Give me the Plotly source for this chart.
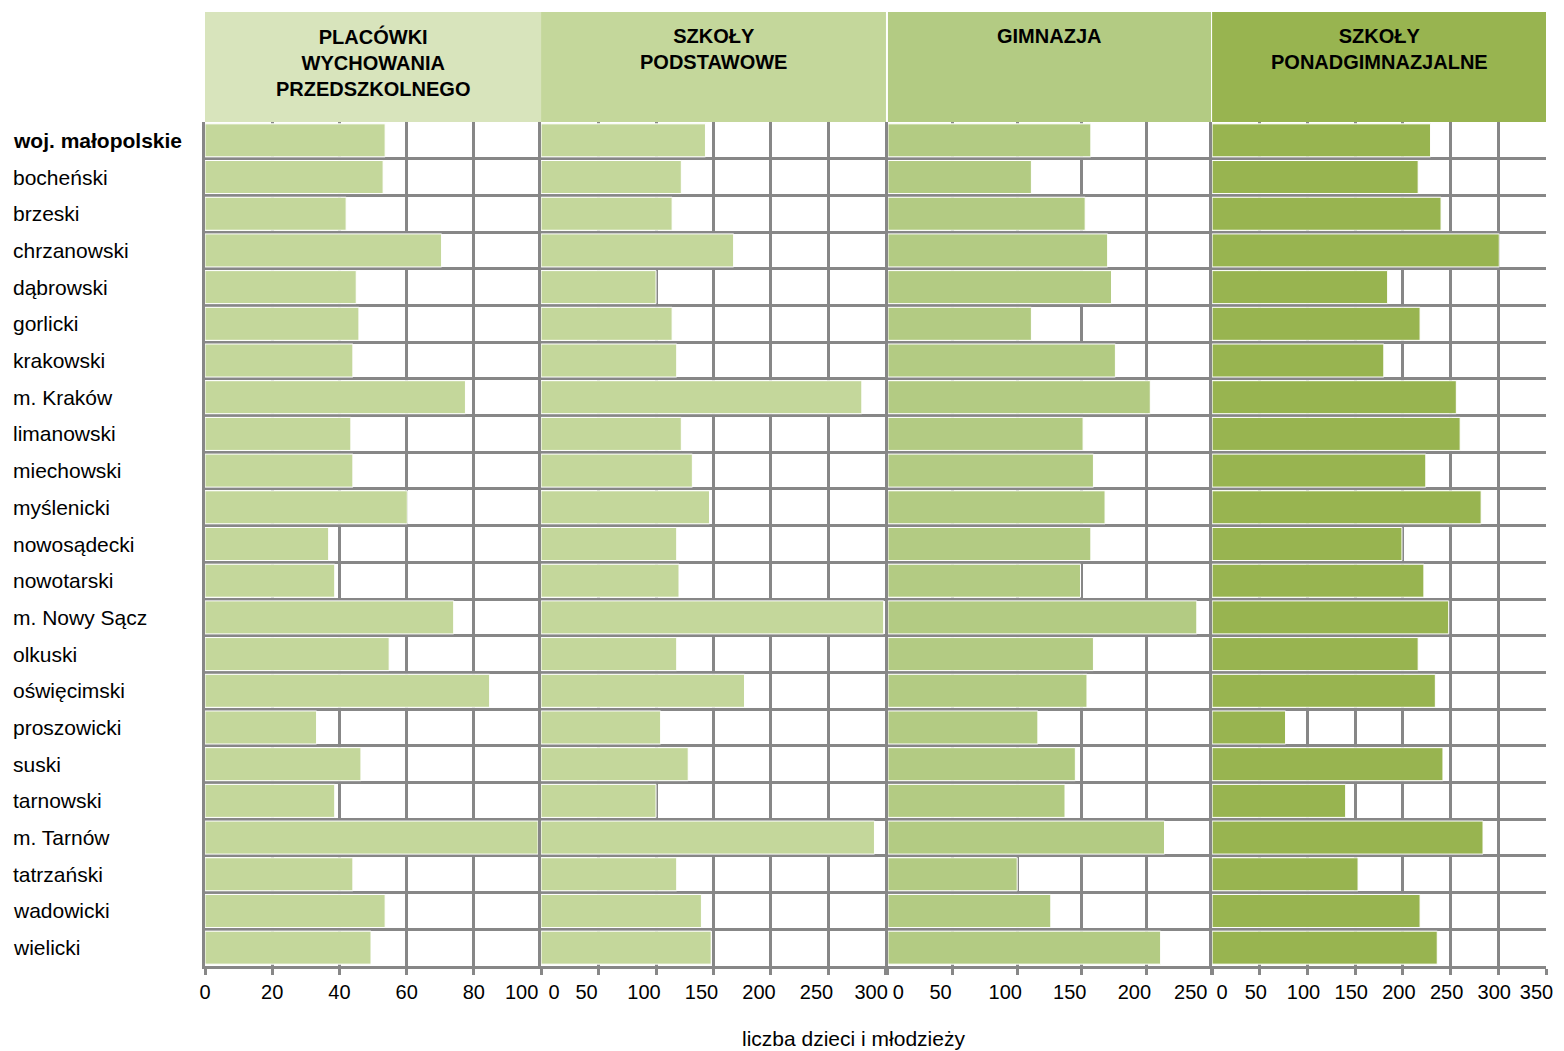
import plotly.graph_objects as go

categories = ["woj. małopolskie", "bocheński", "brzeski", "chrzanowski", "dąbrowski",
              "gorlicki", "krakowski", "m. Kraków", "limanowski", "miechowski",
              "myślenicki", "nowosądecki", "nowotarski", "m. Nowy Sącz", "olkuski",
              "oświęcimski", "proszowicki", "suski", "tarnowski", "m. Tarnów",
              "tatrzański", "wadowicki", "wielicki"]

przedszkola = [53.6, 53, 42, 70.4, 45, 45.8, 44, 77.5, 43.4, 44, 60.2, 36.8, 38.6,
               74, 54.8, 84.7, 33.2, 46.4, 38.6, 99.1, 44, 53.6, 49.4]
podstawowe = [143, 122, 114, 167.5, 100, 114, 118, 279, 122, 131.6, 146.5, 118, 120,
              298, 118, 177, 104, 128, 100, 290, 118, 139.5, 148]
gimnazja = [157, 111, 152.6, 170, 173, 111, 176, 203, 151, 159, 168, 157, 149,
            239, 159, 154, 116, 145, 137, 214, 100, 126, 211]
ponadgimnazjalne = [229, 216, 240, 301, 184, 218, 180, 256, 260, 224, 282, 199, 222,
                    248, 216, 234, 77, 242, 140, 284, 153, 218, 236]

panel_titles = ["PLACÓWKI<br>WYCHOWANIA<br>PRZEDSZKOLNEGO", "SZKOŁY<br>PODSTAWOWE",
                "GIMNAZJA", "SZKOŁY<br>PONADGIMNAZJALNE"]
ticks_p1 = [0, 20, 40, 60, 80, 100]
ticks_p2 = [0, 50, 100, 150, 200, 250, 300]
ticks_p3 = [0, 50, 100, 150, 200, 250]
ticks_p4 = [0, 50, 100, 150, 200, 250, 300, 350]
x_title = "liczba dzieci i młodzieży"

series = [przedszkola, podstawowe, gimnazja, ponadgimnazjalne]
tick_sets = [ticks_p1, ticks_p2, ticks_p3, ticks_p4]
bar_colors = ["#C4D79B", "#C4D79B", "#B3CB83", "#98B450"]
header_colors = ["#D8E4BC", "#C4D79B", "#B3CB83", "#98B450"]
domains = [[0.0, 0.2506], [0.2506, 0.5078], [0.5093, 0.7502], [0.751, 1.0]]
# tick-label placement tweaks (px shift + non-breaking-space padding at panel joints)
label_shift = [0, -12, -12, -4]
lead_pad = [0, 9, 8, 5]
trail_pad = [7, 1, 3, 2]

GRID = "#878787"
FONT = "Liberation Sans, Arial, sans-serif"
NB = "\u00a0"

W, H = 1556, 1051
ML, MR, MT, MB = 197, 18, 114, 93
PW = W - ML - MR
PH = H - MT - MB

fig = go.Figure()
n = len(categories)
for i, vals in enumerate(series):
    sfx = "" if i == 0 else str(i + 1)
    fig.add_trace(go.Bar(
        x=vals, y=categories, orientation="h",
        xaxis="x" + sfx, yaxis="y" + sfx,
        marker=dict(color=bar_colors[i], line=dict(color="white", width=1)),
        showlegend=False, hoverinfo="x+y",
    ))

layout = dict(
    width=W, height=H,
    margin=dict(l=ML, r=MR, t=MT, b=MB, autoexpand=False),
    paper_bgcolor="white", plot_bgcolor="white",
    bargap=0.1, showlegend=False,
    font=dict(family=FONT, color="black"),
    shapes=[], annotations=[],
)

for i in range(4):
    sfx = "" if i == 0 else str(i + 1)
    tv = tick_sets[i]
    tt = [str(v) for v in tv]
    tt[0] = NB * lead_pad[i] + tt[0]
    tt[-1] = tt[-1] + NB * trail_pad[i]
    layout["xaxis" + sfx] = dict(
        domain=domains[i], range=[0, tv[-1]], tickvals=tv, ticktext=tt,
        anchor="y" + sfx, automargin=False,
        ticklabelshift=label_shift[i], ticklabeloverflow="allow",
        showgrid=True, gridcolor=GRID, gridwidth=3, zeroline=False,
        showline=True, linecolor=GRID, linewidth=3,
        ticks="outside", ticklen=6, tickwidth=3, tickcolor=GRID,
        tickfont=dict(size=20, family=FONT, color="black"),
        fixedrange=True,
    )
    ydict = dict(
        type="category", categoryorder="array", categoryarray=categories,
        range=[n - 0.5, -0.5], anchor="x" + sfx, automargin=False,
        tickson="boundaries", showgrid=True, gridcolor=GRID, gridwidth=3,
        showticklabels=False, ticks="",
        showline=True, linecolor=GRID, linewidth=3, zeroline=False,
        fixedrange=True,
    )
    if i > 0:
        ydict["matches"] = "y"
    layout["yaxis" + sfx] = ydict

    # header box
    layout["shapes"].append(dict(
        type="rect", xref="x" + sfx + " domain", yref="paper",
        x0=0, x1=1, y0=1.0, y1=1 + (MT - 4) / PH,
        fillcolor=header_colors[i], line=dict(width=0), layer="above",
    ))
    layout["annotations"].append(dict(
        text="<b>" + panel_titles[i] + "</b>",
        xref="x" + sfx + " domain", yref="paper",
        x=0.5, y=(H - MB - 15) / PH, xanchor="center", yanchor="top",
        showarrow=False, align="center",
        font=dict(size=20, family=FONT, color="black"),
    ))

# category labels, left-aligned
for j, c in enumerate(categories):
    txt = "<b>" + c + "</b>" if j == 0 else c
    layout["annotations"].append(dict(
        text=txt, xref="paper", yref="y", x=-(ML - 3) / PW, y=c,
        xanchor="left", yanchor="middle", showarrow=False,
        font=dict(size=21, family=FONT, color="black"),
    ))

layout["annotations"].append(dict(
    text=x_title, xref="paper", yref="paper",
    x=(845 - ML) / PW, y=(H - MB - 1030) / PH,
    xanchor="center", yanchor="middle", showarrow=False,
    font=dict(size=21, family=FONT, color="black"),
))

fig.update_layout(**layout)
fig.write_html("out.html")
